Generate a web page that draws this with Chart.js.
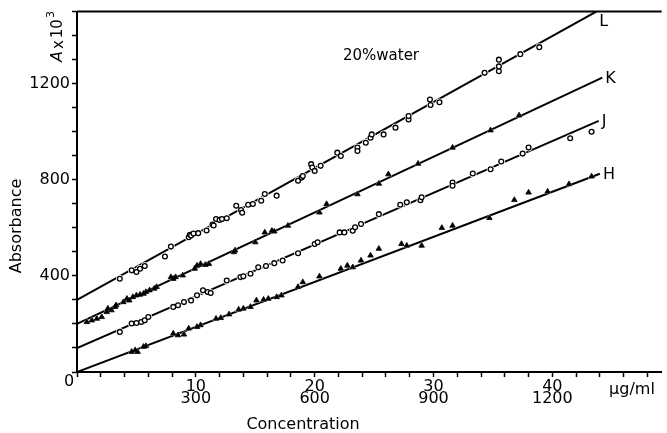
<!DOCTYPE html>
<html>
<head>
<meta charset="utf-8">
<title>Absorbance vs concentration</title>
<script src="https://cdn.jsdelivr.net/npm/chart.js@4.4.1/dist/chart.umd.min.js"></script>
<style>
  html, body { margin: 0; padding: 0; background: #fff; }
  #wrap { width: 667px; height: 433px; }
</style>
</head>
<body>
<div id="wrap"><canvas id="absChart"></canvas></div>
<script>
// measured points, concentration in ug/ml, absorbance x 1000
const hConc = [4.6, 4.9, 5.1, 5.6, 5.8, 8.1, 8.5, 9.0, 9.4, 10.1, 10.4, 11.7, 12.1, 12.8, 13.6, 14.0, 14.6, 15.1, 15.7, 16.1, 16.8, 17.2, 18.6, 19.0, 20.4, 22.2, 22.75, 23.2, 23.9, 24.7, 25.4, 27.3, 27.75, 29.0, 30.7, 31.6, 34.7, 36.8, 38.0, 39.6, 41.4, 43.3];
const hAbs  = [84, 91, 84, 105, 108, 160, 153, 156, 181, 188, 195, 222, 225, 240, 260, 264, 271, 298, 301, 305, 312, 319, 354, 374, 398, 430, 443, 436, 464, 485, 513, 533, 526, 526, 600, 609, 641, 716, 747, 751, 782, 814];

const jConc = [3.6, 4.6, 5.0, 5.4, 5.7, 6.0, 8.1, 8.5, 9.0, 9.6, 10.1, 10.6, 11.0, 11.25, 12.6, 13.75, 14.0, 14.6, 15.25, 15.9, 16.6, 17.3, 18.6, 20.0, 20.25, 22.1, 22.5, 23.2, 23.4, 23.9, 25.4, 27.2, 27.75, 28.9, 29.0, 31.6, 31.6, 33.3, 34.8, 35.7, 37.5, 38.0, 41.5, 43.3];
const jAbs  = [167, 202, 204, 208, 215, 229, 271, 278, 291, 298, 319, 340, 333, 329, 381, 395, 398, 409, 436, 441, 453, 464, 494, 533, 540, 581, 581, 588, 602, 616, 657, 696, 706, 715, 727, 789, 775, 826, 844, 876, 909, 934, 973, 1000];

const kConc = [0.83, 1.25, 1.67, 2.08, 2.5, 2.6, 2.9, 3.2, 3.3, 3.9, 4.2, 4.4, 4.7, 5.0, 5.3, 5.6, 5.8, 6.1, 6.5, 6.7, 7.9, 8.1, 8.3, 8.9, 9.9, 10.1, 10.4, 10.8, 11.1, 13.2, 13.3, 15.0, 15.8, 16.4, 16.6, 17.75, 20.4, 21.0, 23.6, 25.4, 26.2, 28.7, 31.6, 34.8, 37.2];
const kAbs  = [208, 215, 222, 229, 250, 264, 257, 271, 278, 291, 305, 298, 312, 319, 322, 326, 333, 340, 347, 354, 395, 388, 395, 402, 430, 443, 450, 446, 450, 499, 506, 540, 581, 588, 585, 609, 664, 699, 740, 784, 823, 867, 934, 1006, 1068];

const lConc = [3.6, 4.6, 5.0, 5.3, 5.7, 7.4, 7.9, 9.4, 9.5, 9.6, 9.8, 10.2, 10.9, 11.4, 11.5, 11.7, 12.0, 12.2, 12.6, 13.4, 13.8, 13.9, 14.4, 14.8, 15.5, 15.8, 16.8, 18.6, 18.9, 19.0, 19.7, 19.8, 20.0, 20.5, 21.9, 22.2, 23.6, 23.6, 24.3, 24.7, 24.8, 25.8, 26.8, 27.9, 27.9, 29.7, 29.75, 30.5, 34.3, 35.5, 35.5, 35.5, 37.3, 38.9];
const lAbs  = [388, 423, 416, 430, 441, 481, 522, 561, 571, 568, 576, 578, 589, 614, 610, 637, 633, 637, 640, 692, 674, 663, 696, 699, 713, 741, 734, 796, 809, 816, 865, 851, 837, 858, 913, 899, 934, 920, 954, 975, 989, 989, 1017, 1051, 1065, 1134, 1111, 1123, 1245, 1300, 1272, 1252, 1323, 1352];

// straight calibration lines H, J, K, L (start and end points)
const lineNames    = ['H', 'J', 'K', 'L'];
const lineStartX   = [0, 0, 0, 0];
const lineStartY   = [0, 100, 200, 300];
const lineEndX     = [44.0, 43.9, 44.2, 43.7];
const lineEndY     = [825, 1045, 1225, 1500];

// labelled ticks
const concTicks = [10, 20, 30, 40];      // ug/ml
const doseTicks = [300, 600, 900, 1200]; // second scale under the first
const absTicks  = [400, 800, 1200];

const FONT = "'DejaVu Sans', 'Liberation Sans', sans-serif";
Chart.defaults.font.family = FONT;
Chart.defaults.color = '#000';

function pts(xs, ys) {
  return xs.map((x, i) => ({ x: x, y: ys[i] }));
}

const markerSets = [
  { data: pts(hConc, hAbs), style: 'triangle', open: false },
  { data: pts(jConc, jAbs), style: 'circle', open: true },
  { data: pts(kConc, kAbs), style: 'triangle', open: false },
  { data: pts(lConc, lAbs), style: 'circle', open: true }
];

const datasets = [];

lineNames.forEach((name, i) => {
  datasets.push({
    type: 'line',
    label: name,
    data: [{ x: lineStartX[i], y: lineStartY[i] }, { x: lineEndX[i], y: lineEndY[i] }],
    borderColor: '#000',
    borderWidth: 2,
    pointRadius: 0,
    fill: false,
    order: 3
  });
});

markerSets.forEach(m => {
  // white halo so the line breaks slightly around each point
  datasets.push({
    type: 'scatter',
    data: m.data,
    pointStyle: m.style,
    pointRadius: m.open ? 3.8 : 4.2,
    pointBackgroundColor: '#fff',
    pointBorderColor: '#fff',
    pointBorderWidth: 0,
    order: 2
  });
  datasets.push({
    type: 'scatter',
    data: m.data,
    pointStyle: m.style,
    pointRadius: m.open ? 2.4 : 3.2,
    pointBackgroundColor: m.open ? '#fff' : '#000',
    pointBorderColor: '#000',
    pointBorderWidth: m.open ? 1.3 : 0.8,
    order: 1
  });
});

// extra text, top frame line and the line letters
const annotations = {
  id: 'annotations',
  afterDraw(chart) {
    const { ctx, chartArea, scales } = chart;
    const xs = scales.x, ys = scales.y;
    ctx.save();
    ctx.strokeStyle = '#000';
    ctx.lineWidth = 2;
    ctx.beginPath();
    ctx.moveTo(chartArea.left, chartArea.top);
    ctx.lineTo(chartArea.right, chartArea.top);
    ctx.stroke();

    ctx.fillStyle = '#000';
    ctx.textAlign = 'center';
    ctx.textBaseline = 'middle';
    ctx.font = '16px ' + FONT;
    ctx.fillText('0', xs.getPixelForValue(0) - 8, ys.getPixelForValue(0) + 10);

    ctx.textAlign = 'left';
    lineNames.forEach((name, i) => {
      const px = xs.getPixelForValue(lineEndX[i]) + 3;
      let py = ys.getPixelForValue(lineEndY[i]) + 1;
      if (py < chartArea.top + 6) py += 9;
      ctx.fillText(name, px, py);
    });

    ctx.textAlign = 'center';
    ctx.font = '15px ' + FONT;
    ctx.fillText('20%water', 381, 56);

    ctx.font = '16px ' + FONT;
    ctx.fillText('Concentration', 303, 425);
    ctx.fillText('\u03bcg/ml', 632, 390);

    // rotated y-axis title
    ctx.save();
    ctx.translate(17, 226);
    ctx.rotate(-Math.PI / 2);
    ctx.fillText('Absorbance', 0, 0);
    ctx.restore();

    // A x 10^3 unit
    ctx.save();
    ctx.translate(58, 62);
    ctx.rotate(-Math.PI / 2);
    ctx.textAlign = 'left';
    ctx.font = 'italic 16px ' + FONT;
    ctx.fillText('A', 0, 0);
    let off = ctx.measureText('A').width + 2;
    ctx.font = '15px ' + FONT;
    ctx.fillText('x', off, 1);
    off += ctx.measureText('x').width + 2;
    ctx.fillText('10', off, 0);
    off += ctx.measureText('10').width + 1;
    ctx.font = '11px ' + FONT;
    ctx.fillText('3', off, -7);
    ctx.restore();

    ctx.restore();
  }
};

new Chart(document.getElementById('absChart'), {
  data: { datasets: datasets },
  options: {
    responsive: true,
    maintainAspectRatio: false,
    animation: false,
    layout: { padding: { top: 10, right: 0, bottom: 0, left: 0 } },
    plugins: {
      legend: { display: false },
      tooltip: { enabled: false }
    },
    scales: {
      x: {
        type: 'linear',
        min: 0,
        max: 49.2,
        border: { display: true, color: '#000', width: 2 },
        grid: { drawOnChartArea: false, drawTicks: true, tickLength: 5, tickColor: '#000', tickWidth: 1.5 },
        afterBuildTicks(scale) {
          const t = [];
          for (let v = 0; v <= 48; v += 2) t.push({ value: v });
          scale.ticks = t;
        },
        afterFit(scale) { scale.height = 61; },
        ticks: {
          autoSkip: false,
          maxRotation: 0,
          padding: 3,
          color: '#000',
          font: { size: 16, lineHeight: 0.8 },
          callback(value) {
            const i = concTicks.indexOf(value);
            return i >= 0 ? [String(value), String(doseTicks[i])] : '';
          }
        }
      },
      y: {
        type: 'linear',
        min: 0,
        max: 1500,
        border: { display: true, color: '#000', width: 2 },
        grid: { drawOnChartArea: false, drawTicks: true, tickLength: 5, tickColor: '#000', tickWidth: 1.5 },
        afterBuildTicks(scale) {
          const t = [];
          for (let v = 0; v <= 1500; v += 100) t.push({ value: v });
          scale.ticks = t;
        },
        afterFit(scale) { scale.width = 77; },
        ticks: {
          autoSkip: false,
          padding: 2,
          color: '#000',
          font: { size: 16 },
          callback(value) {
            return absTicks.includes(value) ? String(value) : '';
          }
        }
      }
    }
  },
  plugins: [annotations]
});
</script>
</body>
</html>
